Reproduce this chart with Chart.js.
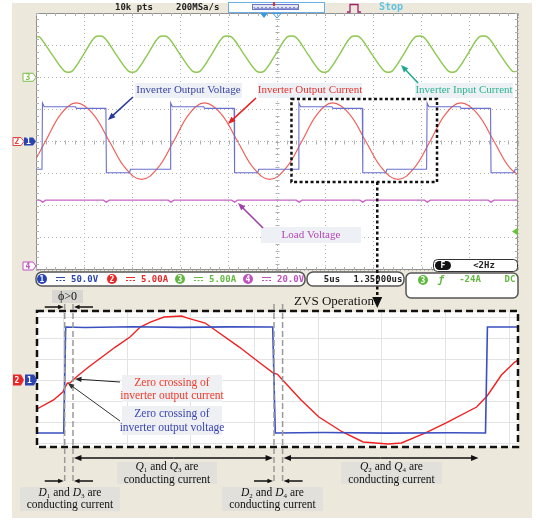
<!DOCTYPE html>
<html>
<head>
<meta charset="utf-8">
<title>ZVS waveforms</title>
<script src="https://cdn.jsdelivr.net/npm/chart.js@4.4.1/dist/chart.umd.min.js"></script>
<style>
  body { margin: 0; background: #fff; }
  #wrap { position: relative; width: 536px; height: 520px; }
  #wrap canvas { position: absolute; left: 0; top: 0; }
</style>
</head>
<body>
<div id="wrap">
  <canvas id="scopeChart" width="536" height="520"></canvas>
  <canvas id="zoomChart" width="536" height="520"></canvas>
</div>
<script>
// ---- scope screen, 5us/div, 10 div ----
// ch3 inverter input current (A)
var greenT = [0, 0.38, 1.64, 2.95, 3.75, 4.96, 6.12, 7.02, 8.28, 9.59, 10.39, 11.6, 12.76, 13.66, 14.92, 16.23, 17.03, 18.24,
  19.4, 20.3, 21.56, 22.87, 23.67, 24.88, 26.04, 26.94, 28.2, 29.5, 30.3, 31.51, 32.67, 33.57, 34.83, 36.14, 36.94, 38.15,
  39.31, 40.21, 41.47, 42.78, 43.58, 44.79, 45.95, 46.85, 48.11, 49.42, 50];
var greenA = [6.25, 6.25, 3.6, 0.95, 0.95, 3.6, 6.25, 6.25, 3.6, 0.95, 0.95, 3.6, 6.25, 6.25, 3.6, 0.95, 0.95, 3.6,
  6.25, 6.25, 3.6, 0.95, 0.95, 3.6, 6.25, 6.25, 3.6, 0.95, 0.95, 3.6, 6.25, 6.25, 3.6, 0.95, 0.95, 3.6,
  6.25, 6.25, 3.6, 0.95, 0.95, 3.6, 6.25, 6.25, 3.6, 0.95, 0.95];

// ch1 inverter output voltage (V)
var blueT = [0, 0.62, 0.67, 0.85, 4.1, 4.2, 7.25, 7.3, 9.7, 9.8, 13.92, 13.97, 14.15, 17.4, 17.5, 20.55, 20.6, 23.0, 23.1,
  27.22, 27.27, 27.45, 30.7, 30.8, 33.85, 33.9, 36.3, 36.4, 40.52, 40.57, 40.75, 44.0, 44.1, 47.15, 47.2, 49.6, 49.7, 50];
var blueV = [-43.3, -43.3, 60, 54, 54, 51.5, 51.5, -48.6, -48.6, -43.3, -43.3, 60, 54, 54, 51.5, 51.5, -48.6, -48.6, -43.3,
  -43.3, 60, 54, 54, 51.5, 51.5, -48.6, -48.6, -43.3, -43.3, 60, 54, 54, 51.5, 51.5, -48.6, -48.6, -43.3, -43.3];

// ch2 inverter output current (A)
var redT = [-2.36, -0.7, 0.97, 2.6, 4.2, 5.9, 7.62, 9.3, 10.95, 12.6, 14.27, 15.9, 17.5, 19.2, 20.92, 22.6, 24.25,
  25.9, 27.57, 29.2, 30.8, 32.5, 34.22, 35.9, 37.55, 39.2, 40.87, 42.5, 44.1, 45.8, 47.52, 49.2, 50.85];
var redA = [-5.9, -4.2, 0, 4.3, 6.0, 4.3, 0, -4.2, -5.9, -4.2, 0, 4.3, 6.0, 4.3, 0, -4.2, -5.9,
  -4.2, 0, 4.3, 6.0, 4.3, 0, -4.2, -5.9, -4.2, 0, 4.3, 6.0, 4.3, 0, -4.2, -5.9];

// ch4 load voltage (V)
var loadT = [0, 0.4, 0.7, 1.0, 7.0, 7.3, 7.6, 13.7, 14.0, 14.3, 20.3, 20.6, 20.9, 27.0, 27.3, 27.6, 33.6, 33.9, 34.2,
  40.3, 40.6, 40.9, 46.9, 47.2, 47.5, 50];
var loadV = [41, 41, 39.8, 41, 41, 39.8, 41, 41, 39.8, 41, 41, 39.8, 41, 41, 39.8, 41, 41, 39.8, 41,
  41, 39.8, 41, 41, 39.8, 41, 41];

// zoomed window (us on the scope time axis)
var zoomStart = 26.5, zoomEnd = 41.6;

// ---- zoomed view, one period and a bit ----
var zBlueT = [0, 0.84, 0.9, 1.5, 3.0, 4.5, 6.0, 7.4, 7.48, 9.0, 11.0, 13.0, 14.08, 14.14, 15.1];
var zBlueV = [-50.5, -50.5, 50.5, 50.0, 50.8, 50.2, 50.6, 50.5, -50.5, -50.0, -50.6, -50.2, -50.5, 50.5, 50.5];

var zRedT = [0, 0.52, 0.81, 0.95, 1.05, 1.13, 1.3, 1.62, 2.04, 2.46, 2.92, 3.24, 3.56, 3.99, 4.54, 4.73, 5.28, 6.35,
  7.0, 7.4, 7.55, 7.71, 8.29, 8.85, 9.59, 10.24, 11.02, 11.44, 12.18, 12.83, 13.8, 14.13, 14.58, 15.0, 15.1];
var zRedA = [-2.76, -1.9, -1.14, -0.3, -0.25, 0, 0.45, 1.24, 2.19, 3.14, 4.1, 5.05, 5.52, 6.0, 6.1, 5.9, 5.43, 3.14,
  1.62, 0.7, 0.55, 0, -1.9, -3.52, -4.95, -5.9, -6.1, -6.0, -5.05, -4.1, -2.57, -1.52, 0.48, 1.71, 1.9];

var zGridT = [0.83, 2.83, 4.83, 6.83, 8.83, 10.83, 12.83, 14.83];
var zGridV = [-60, -40, -20, 0, 20, 40, 60];

var SERIF = "'Liberation Serif', 'Times New Roman', serif";
var MONO = "'DejaVu Sans Mono', monospace";

function pts(xs, ys) {
  return xs.map(function (x, i) { return { x: x, y: ys[i] }; });
}

function arrow(ctx, x1, y1, x2, y2, color, w, head) {
  var a = Math.atan2(y2 - y1, x2 - x1);
  ctx.save();
  ctx.strokeStyle = color;
  ctx.fillStyle = color;
  ctx.lineWidth = w;
  ctx.setLineDash([]);
  ctx.beginPath();
  ctx.moveTo(x1, y1);
  ctx.lineTo(x2 - Math.cos(a) * head * 0.7, y2 - Math.sin(a) * head * 0.7);
  ctx.stroke();
  ctx.beginPath();
  ctx.moveTo(x2, y2);
  ctx.lineTo(x2 - head * Math.cos(a - 0.38), y2 - head * Math.sin(a - 0.38));
  ctx.lineTo(x2 - head * Math.cos(a + 0.38), y2 - head * Math.sin(a + 0.38));
  ctx.closePath();
  ctx.fill();
  ctx.restore();
}

function textLines(ctx, list, cx, cy, lh, font, color) {
  ctx.font = font;
  ctx.fillStyle = color;
  ctx.textAlign = 'center';
  ctx.textBaseline = 'middle';
  list.forEach(function (s, i) { ctx.fillText(s, cx, cy + i * lh); });
}

// parts: [text, style]  style 'i' = italic, 's' = subscript
function rich(ctx, parts, cx, cy, size, color) {
  var total = 0;
  var fonts = parts.map(function (p) {
    var f = (p[1] === 'i' ? 'italic ' : '') + (p[1] === 's' ? Math.round(size * 0.65) : size) + 'px ' + SERIF;
    ctx.font = f;
    var w = ctx.measureText(p[0]).width;
    total += w;
    return [f, w];
  });
  var x = cx - total / 2;
  ctx.textAlign = 'left';
  ctx.textBaseline = 'middle';
  ctx.fillStyle = color;
  parts.forEach(function (p, i) {
    ctx.font = fonts[i][0];
    ctx.fillText(p[0], x, cy + (p[1] === 's' ? size * 0.28 : 0));
    x += fonts[i][1];
  });
}

function roundRect(ctx, x, y, w, h, r) {
  ctx.beginPath();
  ctx.moveTo(x + r, y);
  ctx.arcTo(x + w, y, x + w, y + h, r);
  ctx.arcTo(x + w, y + h, x, y + h, r);
  ctx.arcTo(x, y + h, x, y, r);
  ctx.arcTo(x, y, x + w, y, r);
  ctx.closePath();
}

function marker(ctx, x, y, w, h, color, txt, filled) {
  ctx.beginPath();
  ctx.moveTo(x, y - h / 2);
  ctx.lineTo(x + w - 3, y - h / 2);
  ctx.lineTo(x + w, y);
  ctx.lineTo(x + w - 3, y + h / 2);
  ctx.lineTo(x, y + h / 2);
  ctx.closePath();
  if (filled) {
    ctx.fillStyle = color;
    ctx.fill();
  } else {
    ctx.fillStyle = '#fff';
    ctx.fill();
    ctx.strokeStyle = color;
    ctx.lineWidth = 1;
    ctx.stroke();
  }
  ctx.font = 'bold 8px ' + MONO;
  ctx.fillStyle = filled ? '#fff' : color;
  ctx.textAlign = 'center';
  ctx.textBaseline = 'middle';
  ctx.fillText(txt, x + (w - 3) / 2, y + 0.5);
}

function chanItem(ctx, x, y, color, num, txt) {
  ctx.beginPath();
  ctx.arc(x, y, 5, 0, Math.PI * 2);
  ctx.fillStyle = color;
  ctx.fill();
  ctx.font = 'bold 8px ' + MONO;
  ctx.fillStyle = '#fff';
  ctx.textAlign = 'center';
  ctx.textBaseline = 'middle';
  ctx.fillText(num, x, y + 0.5);
  ctx.strokeStyle = color;
  ctx.lineWidth = 1;
  ctx.beginPath();
  ctx.moveTo(x + 14, y - 1.5);
  ctx.lineTo(x + 23, y - 1.5);
  ctx.stroke();
  ctx.setLineDash([2, 1.5]);
  ctx.beginPath();
  ctx.moveTo(x + 14, y + 1.5);
  ctx.lineTo(x + 23, y + 1.5);
  ctx.stroke();
  ctx.setLineDash([]);
  ctx.font = 'bold 9px ' + MONO;
  ctx.fillStyle = color;
  ctx.textAlign = 'left';
  ctx.fillText(txt, x + 29, y + 0.5);
}

var scopeDecor = {
  id: 'scopeDecor',
  beforeDraw: function (chart) {
    var ctx = chart.ctx, a = chart.chartArea;
    ctx.save();
    ctx.fillStyle = '#ece8dc';
    ctx.fillRect(12, 3, 520, 515);
    ctx.fillStyle = '#ffffff';
    ctx.fillRect(a.left, a.top, a.right - a.left, a.bottom - a.top);
    ctx.restore();
  },
  afterDraw: function (chart) {
    var ctx = chart.ctx, a = chart.chartArea;
    var x = chart.scales.x, yG = chart.scales.yG, yB = chart.scales.yB, yM = chart.scales.yM;
    var i, px, py;
    ctx.save();

    // frame and minor ticks (1/5 div)
    ctx.strokeStyle = '#8f8f8f';
    ctx.lineWidth = 1;
    ctx.strokeRect(a.left + 0.5, a.top + 0.5, a.right - a.left - 1, a.bottom - a.top - 1);
    ctx.strokeStyle = '#b0b0b0';
    var cy = Math.round(yG.getPixelForValue(-10)) + 0.5;
    var cx = Math.round(x.getPixelForValue(25)) + 0.5;
    ctx.beginPath();
    for (i = 0; i <= 50; i += 1) {
      px = Math.round(x.getPixelForValue(i)) + 0.5;
      ctx.moveTo(px, a.top); ctx.lineTo(px, a.top + 3);
      ctx.moveTo(px, a.bottom); ctx.lineTo(px, a.bottom - 3);
      ctx.moveTo(px, cy - 2); ctx.lineTo(px, cy + 2);
    }
    for (i = -30; i <= 10; i += 1) {
      py = Math.round(yG.getPixelForValue(i)) + 0.5;
      ctx.moveTo(a.left, py); ctx.lineTo(a.left + 3, py);
      ctx.moveTo(a.right, py); ctx.lineTo(a.right - 3, py);
      ctx.moveTo(cx - 2, py); ctx.lineTo(cx + 2, py);
    }
    ctx.stroke();

    // top status line
    ctx.font = 'bold 9px ' + MONO;
    ctx.fillStyle = '#222';
    ctx.textAlign = 'left';
    ctx.textBaseline = 'middle';
    ctx.fillText('10k pts', 115, 7.5);
    ctx.fillText('200MSa/s', 176, 7.5);
    ctx.fillStyle = '#fff';
    ctx.fillRect(228, 2, 96, 10);
    ctx.strokeStyle = '#6aaee8';
    ctx.strokeRect(228.5, 2.5, 96, 10);
    ctx.fillStyle = '#e4e6f0';
    ctx.fillRect(252, 4.5, 47, 5);
    ctx.strokeStyle = '#6f76c8';
    ctx.strokeRect(252.5, 4.5, 46, 5);
    ctx.beginPath();
    for (i = 0; i < 11; i++) {
      ctx.moveTo(254 + i * 4, 7);
      ctx.arc(256 + i * 4, 7, 2, Math.PI, 0, true);
    }
    ctx.stroke();
    ctx.fillStyle = '#e03030';
    ctx.fillRect(273, 2, 2, 4);
    ctx.strokeStyle = '#a0206a';
    ctx.lineWidth = 1.3;
    ctx.beginPath();
    ctx.moveTo(347, 12); ctx.lineTo(350, 12); ctx.lineTo(350, 4.5); ctx.lineTo(358, 4.5);
    ctx.lineTo(358, 12); ctx.lineTo(361, 12);
    ctx.stroke();
    ctx.font = 'bold 10px ' + MONO;
    ctx.fillStyle = '#62c4e0';
    ctx.fillText('Stop', 379, 7.5);

    // trigger position marks
    var tp = x.getPixelForValue(25 - 1.35), tc = x.getPixelForValue(25);
    ctx.fillStyle = '#3a9ad8';
    ctx.beginPath();
    ctx.moveTo(tp - 4, 13); ctx.lineTo(tp + 4, 13); ctx.lineTo(tp, 18); ctx.closePath();
    ctx.fill();
    ctx.strokeStyle = '#3a9ad8';
    ctx.lineWidth = 1;
    ctx.beginPath();
    ctx.moveTo(tc - 4, 13.5); ctx.lineTo(tc + 4, 13.5); ctx.lineTo(tc, 18); ctx.closePath();
    ctx.stroke();

    // channel ground markers
    marker(ctx, 23, yG.getPixelForValue(0), 13, 8, '#7cc04a', '3', false);
    marker(ctx, 13, yB.getPixelForValue(0), 11, 8, '#e84040', '2', false);
    marker(ctx, 24, yB.getPixelForValue(0), 12, 8, '#2a44b0', '1', true);
    marker(ctx, 23, yM.getPixelForValue(0), 13, 8, '#c050c0', '4', false);

    // trigger level
    py = yG.getPixelForValue(-24);
    ctx.fillStyle = '#6cc040';
    ctx.beginPath();
    ctx.moveTo(a.right - 6, py); ctx.lineTo(a.right, py - 4); ctx.lineTo(a.right, py + 4); ctx.closePath();
    ctx.fill();

    // F box
    ctx.fillStyle = '#fff';
    roundRect(ctx, 433.5, 259.5, 84, 12, 4);
    ctx.fill();
    ctx.strokeStyle = '#333';
    ctx.lineWidth = 1;
    ctx.stroke();
    ctx.fillStyle = '#111';
    roundRect(ctx, 435, 261, 16, 9, 4.5);
    ctx.fill();
    ctx.font = 'bold 8px ' + MONO;
    ctx.fillStyle = '#fff';
    ctx.textAlign = 'center';
    ctx.fillText('F', 443, 266);
    ctx.fillStyle = '#222';
    ctx.font = 'bold 9px ' + MONO;
    ctx.fillText('<2Hz', 484, 266);

    // bottom status line
    ctx.lineWidth = 1.5;
    ctx.strokeStyle = '#555';
    ctx.fillStyle = '#fff';
    roundRect(ctx, 36, 272, 269, 14, 6);
    ctx.fill(); ctx.stroke();
    roundRect(ctx, 307, 272, 97, 14, 6);
    ctx.fill(); ctx.stroke();
    roundRect(ctx, 406, 273, 112, 25, 5);
    ctx.fill(); ctx.stroke();
    chanItem(ctx, 42, 279, '#2a44b0', '1', '50.0V');
    chanItem(ctx, 112, 279, '#e82828', '2', '5.00A');
    chanItem(ctx, 180, 279, '#62b840', '3', '5.00A');
    chanItem(ctx, 248, 279, '#c050c0', '4', '20.0V');
    ctx.font = 'bold 9px ' + MONO;
    ctx.fillStyle = '#222';
    ctx.textAlign = 'center';
    ctx.fillText('5us', 332, 279.5);
    ctx.fillText('1.35000us', 378, 279.5);
    ctx.beginPath();
    ctx.arc(423, 280, 5, 0, Math.PI * 2);
    ctx.fillStyle = '#62b840';
    ctx.fill();
    ctx.fillStyle = '#fff';
    ctx.font = 'bold 8px ' + MONO;
    ctx.fillText('3', 423, 280.5);
    ctx.fillStyle = '#62b840';
    ctx.font = 'italic bold 10px ' + MONO;
    ctx.fillText('\u0192', 441, 280);
    ctx.font = 'bold 9px ' + MONO;
    ctx.fillText('-24A', 470, 280);
    ctx.fillText('DC', 510, 280);

    // trace labels
    ctx.fillStyle = '#edf0f5';
    ctx.fillRect(135, 83, 107, 15);
    ctx.fillRect(258, 83, 104, 15);
    ctx.fillRect(415, 83, 98, 15);
    ctx.fillRect(261, 227, 100, 16);
    textLines(ctx, ['Inverter Output Voltage'], 188.5, 90.5, 0, '11px ' + SERIF, '#3a44a0');
    textLines(ctx, ['Inverter Output Current'], 310, 90.5, 0, '11px ' + SERIF, '#e8322e');
    textLines(ctx, ['Inverter Input Current'], 464, 90.5, 0, '11px ' + SERIF, '#2bb38f');
    textLines(ctx, ['Load Voltage'], 311, 235, 0, '11px ' + SERIF, '#b445b4');
    arrow(ctx, 133, 97, 108, 120, '#2b3a9a', 1.6, 8);
    arrow(ctx, 256, 98, 228, 124, '#e82020', 1.6, 8);
    arrow(ctx, 418, 83, 401, 65, '#20a890', 1.6, 8);
    arrow(ctx, 263, 228, 238, 203, '#a040a8', 1.6, 8);

    // zoom window box and pointer
    var bx1 = x.getPixelForValue(zoomStart), bx2 = x.getPixelForValue(zoomEnd);
    ctx.strokeStyle = '#111';
    ctx.lineWidth = 2.5;
    ctx.setLineDash([3, 2.5]);
    ctx.strokeRect(bx1, 99, bx2 - bx1, 83);
    var vx = x.getPixelForValue(35.4);
    ctx.beginPath();
    ctx.moveTo(vx, 182); ctx.lineTo(vx, 298);
    ctx.stroke();
    ctx.setLineDash([]);
    ctx.fillStyle = '#111';
    ctx.beginPath();
    ctx.moveTo(vx - 5, 297); ctx.lineTo(vx + 5, 297); ctx.lineTo(vx, 308); ctx.closePath();
    ctx.fill();
    ctx.restore();
  }
};

var zoomDecor = {
  id: 'zoomDecor',
  beforeDraw: function (chart) {
    var ctx = chart.ctx, a = chart.chartArea;
    ctx.save();
    ctx.fillStyle = '#ffffff';
    ctx.fillRect(a.left, a.top, a.right - a.left, a.bottom - a.top);
    ctx.restore();
  },
  afterDraw: function (chart) {
    var ctx = chart.ctx, a = chart.chartArea, x = chart.scales.x, yV = chart.scales.yV;
    ctx.save();

    ctx.strokeStyle = '#111';
    ctx.lineWidth = 2.5;
    ctx.setLineDash([7, 4]);
    ctx.strokeRect(a.left, a.top - 1, a.right - a.left, a.bottom - a.top + 1);
    ctx.setLineDash([]);

    marker(ctx, 13, yV.getPixelForValue(0), 11, 11, '#e82828', '2', true);
    marker(ctx, 25, yV.getPixelForValue(0), 12, 11, '#2a44b0', '1', true);

    // edge and zero-crossing times taken from the traces
    var vRise = (zBlueT[1] + zBlueT[2]) / 2, vFall = (zBlueT[7] + zBlueT[8]) / 2;
    var iRise = zRedT[zRedA.indexOf(0)], iFall = zRedT[zRedA.lastIndexOf(0)];
    var xr = x.getPixelForValue(vRise), xi = x.getPixelForValue(iRise);
    var xf = x.getPixelForValue(vFall), xj = x.getPixelForValue(iFall);
    var xq = x.getPixelForValue((zBlueT[12] + zBlueT[13]) / 2) - 8;

    ctx.strokeStyle = '#9a9a9a';
    ctx.lineWidth = 1.5;
    ctx.setLineDash([6, 3]);
    ctx.beginPath();
    [xr, xi, xf, xj].forEach(function (v) {
      ctx.moveTo(v, 304); ctx.lineTo(v, 484);
    });
    ctx.stroke();
    ctx.setLineDash([]);

    // phi > 0
    ctx.fillStyle = '#d8d6d1';
    ctx.fillRect(52, 290, 31, 13);
    textLines(ctx, ['\u03d5>0'], 67.5, 296.5, 0, '12px ' + SERIF, '#111');
    arrow(ctx, xr - 20, 307, xr - 1, 307, '#111', 1.5, 6);
    arrow(ctx, xi + 20, 307, xi + 1, 307, '#111', 1.5, 6);

    textLines(ctx, ['ZVS Operation'], 334, 302, 0, '13px ' + SERIF, '#111');

    // zero crossing notes
    ctx.fillStyle = '#eef0f4';
    ctx.fillRect(122, 375, 100, 27);
    ctx.fillRect(122, 406, 100, 29);
    textLines(ctx, ['Zero crossing of', 'inverter output current'], 172, 382.5, 13, '11.5px ' + SERIF, '#f03a2a');
    textLines(ctx, ['Zero crossing of', 'inverter output voltage'], 172, 414, 13.5, '11.5px ' + SERIF, '#3a44b0');
    arrow(ctx, 120, 382, xi + 2, 379, '#222', 1, 7);
    arrow(ctx, 120, 421, xr + 3, 383, '#333', 1, 7);

    // conduction intervals
    var ya = 458, yd = 481;
    arrow(ctx, (xi + xf) / 2, ya, xi + 1, ya, '#111', 1.5, 8);
    arrow(ctx, (xi + xf) / 2, ya, xf - 1, ya, '#111', 1.5, 8);
    arrow(ctx, (xj + xq) / 2, ya, xj + 1, ya, '#111', 1.5, 8);
    arrow(ctx, (xj + xq) / 2, ya, xq, ya, '#111', 1.5, 8);
    arrow(ctx, xr - 20, yd, xr - 1, yd, '#111', 1.5, 6);
    arrow(ctx, xi + 20, yd, xi + 1, yd, '#111', 1.5, 6);
    arrow(ctx, xf - 20, yd, xf - 1, yd, '#111', 1.5, 6);
    arrow(ctx, xj + 20, yd, xj + 1, yd, '#111', 1.5, 6);

    ctx.fillStyle = '#e2e0db';
    ctx.fillRect(117, 462, 100, 22);
    ctx.fillRect(341, 462, 101, 22);
    ctx.fillRect(20, 487, 100, 24);
    ctx.fillRect(222, 487, 101, 24);
    rich(ctx, [['Q', 'i'], ['1', 's'], [' and ', ''], ['Q', 'i'], ['3', 's'], [' are', '']], 167, 467, 11.5, '#111');
    textLines(ctx, ['conducting current'], 167, 479.5, 0, '11.5px ' + SERIF, '#111');
    rich(ctx, [['Q', 'i'], ['2', 's'], [' and ', ''], ['Q', 'i'], ['4', 's'], [' are', '']], 391.5, 467, 11.5, '#111');
    textLines(ctx, ['conducting current'], 391.5, 479.5, 0, '11.5px ' + SERIF, '#111');
    rich(ctx, [['D', 'i'], ['1', 's'], [' and ', ''], ['D', 'i'], ['3', 's'], [' are', '']], 70, 492.5, 11.5, '#111');
    textLines(ctx, ['conducting current'], 70, 505, 0, '11.5px ' + SERIF, '#111');
    rich(ctx, [['D', 'i'], ['2', 's'], [' and ', ''], ['D', 'i'], ['4', 's'], [' are', '']], 272.5, 492.5, 11.5, '#111');
    textLines(ctx, ['conducting current'], 272.5, 505, 0, '11.5px ' + SERIF, '#111');
    ctx.restore();
  }
};

function zeroFit(horizontal) {
  return function (scale) {
    if (horizontal) scale.height = 0; else scale.width = 0;
  };
}

new Chart(document.getElementById('scopeChart'), {
  type: 'line',
  data: {
    datasets: [
      { label: 'Inverter Input Current', data: pts(greenT, greenA), yAxisID: 'yG', borderColor: '#8cc850', borderWidth: 1.4, pointRadius: 0, tension: 0.3 },
      { label: 'Inverter Output Voltage', data: pts(blueT, blueV), yAxisID: 'yB', borderColor: '#6a6fd0', borderWidth: 1.1, pointRadius: 0, tension: 0 },
      { label: 'Inverter Output Current', data: pts(redT, redA), yAxisID: 'yR', borderColor: '#f0605a', borderWidth: 1.2, pointRadius: 0, tension: 0.4 },
      { label: 'Load Voltage', data: pts(loadT, loadV), yAxisID: 'yM', borderColor: '#c864c8', borderWidth: 1.4, pointRadius: 0, tension: 0 }
    ]
  },
  options: {
    responsive: false,
    animation: false,
    events: [],
    layout: { padding: { left: 36, top: 13, right: 18, bottom: 250 } },
    plugins: { legend: { display: false }, tooltip: { enabled: false } },
    scales: {
      x: {
        type: 'linear', min: 0, max: 50,
        ticks: { display: false, stepSize: 5 },
        grid: { color: '#b4b4b4', lineWidth: 1, drawTicks: false },
        border: { display: false, dash: [1, 3] },
        afterFit: zeroFit(true)
      },
      yG: {
        position: 'left', min: -30, max: 10,
        ticks: { display: false, stepSize: 5 },
        grid: { color: '#b4b4b4', lineWidth: 1, drawTicks: false },
        border: { display: false, dash: [1, 3] },
        afterFit: zeroFit(false)
      },
      yB: { display: false, min: -200, max: 200 },
      yR: { display: false, min: -20, max: 20 },
      yM: { display: false, min: -2.5, max: 157.5 }
    }
  },
  plugins: [scopeDecor]
});

new Chart(document.getElementById('zoomChart'), {
  type: 'line',
  data: {
    datasets: [
      { label: 'Inverter output voltage', data: pts(zBlueT, zBlueV), yAxisID: 'yV', borderColor: '#3a4fc0', borderWidth: 1.6, pointRadius: 0, tension: 0 },
      { label: 'Inverter output current', data: pts(zRedT, zRedA), yAxisID: 'yA', borderColor: '#f02020', borderWidth: 1.4, pointRadius: 0, tension: 0 }
    ]
  },
  options: {
    responsive: false,
    animation: false,
    events: [],
    layout: { padding: { left: 37, top: 312, right: 18, bottom: 73 } },
    plugins: { legend: { display: false }, tooltip: { enabled: false } },
    scales: {
      x: {
        type: 'linear', min: 0, max: 15.1,
        ticks: { display: false },
        afterBuildTicks: function (s) { s.ticks = zGridT.map(function (v) { return { value: v }; }); },
        grid: { color: '#e3e3e3', lineWidth: 1, drawTicks: false },
        border: { display: false },
        afterFit: zeroFit(true)
      },
      yV: {
        position: 'left', min: -63.8, max: 64.8,
        ticks: { display: false },
        afterBuildTicks: function (s) { s.ticks = zGridV.map(function (v) { return { value: v }; }); },
        grid: { color: '#e3e3e3', lineWidth: 1, drawTicks: false },
        border: { display: false },
        afterFit: zeroFit(false)
      },
      yA: { display: false, min: -6.38, max: 6.48 }
    }
  },
  plugins: [zoomDecor]
});
</script>
</body>
</html>
